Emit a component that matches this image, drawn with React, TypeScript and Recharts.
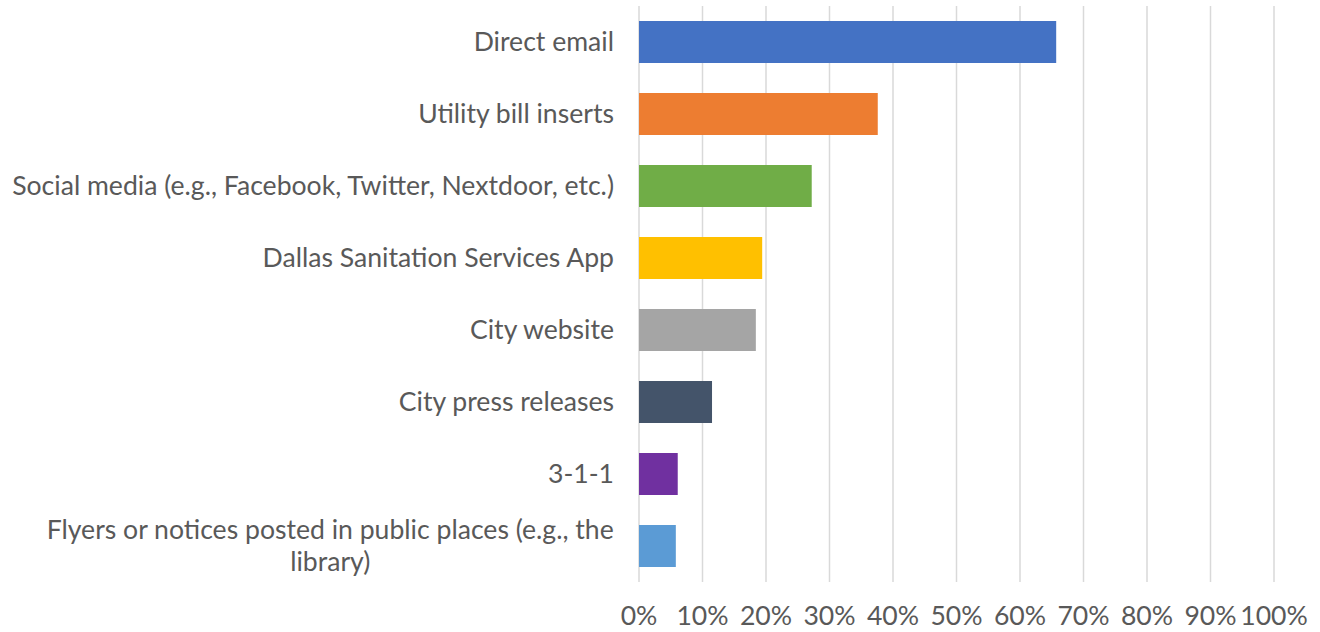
import { BarChart, Bar, XAxis, YAxis, CartesianGrid, Cell } from 'recharts';

const channels = [
  'Direct email',
  'Utility bill inserts',
  'Social media (e.g., Facebook, Twitter, Nextdoor, etc.)',
  'Dallas Sanitation Services App',
  'City website',
  'City press releases',
  '3-1-1',
  'Flyers or notices posted in public places (e.g., the library)',
];

const shares = [0.657, 0.376, 0.272, 0.194, 0.184, 0.115, 0.061, 0.058];

const barColors = ['#4472C4', '#ED7D31', '#70AD47', '#FFC000', '#A5A5A5', '#44546A', '#7030A0', '#5B9BD5'];

const xTicks = [0, 0.1, 0.2, 0.3, 0.4, 0.5, 0.6, 0.7, 0.8, 0.9, 1];

const data = channels.map((label, i) => ({ label, value: shares[i], color: barColors[i] }));

const FONT = 'Lato, "Open Sans", sans-serif';
const TEXT = '#595959';
const SIZE = 26.6;

// wraps the long label the way Excel does: first line right-aligned, rest centred under it
const wrapLimit = 630;

const measure = (s: string) => {
  const c = document.createElement('canvas').getContext('2d');
  if (!c) return s.length * 12;
  c.font = `${SIZE}px ${FONT}`;
  return c.measureText(s).width;
};

const splitLabel = (text: string) => {
  if (measure(text) <= wrapLimit) return [text];
  const words = text.split(' ');
  let first = '';
  let i = 0;
  while (i < words.length && measure((first + ' ' + words[i]).trim()) <= wrapLimit) {
    first = (first + ' ' + words[i]).trim();
    i++;
  }
  return [first, words.slice(i).join(' ')];
};

const CategoryTick = ({ x, y, payload }: { x?: number; y?: number; payload?: { value: string } }) => {
  const lines = splitLabel(payload?.value ?? '');
  const right = (x ?? 0) - 17;
  if (lines.length === 1) {
    return (
      <text x={right} y={y} dy={9} textAnchor="end" fill={TEXT} fontSize={SIZE} fontFamily={FONT}>
        {lines[0]}
      </text>
    );
  }
  const mid = right - measure(lines[0]) / 2;
  return (
    <text fill={TEXT} fontSize={SIZE} fontFamily={FONT} textAnchor="middle">
      <tspan x={mid} y={(y ?? 0) - 7}>{lines[0]}</tspan>
      <tspan x={mid} y={(y ?? 0) + 25}>{lines[1]}</tspan>
    </text>
  );
};

export default function App() {
  return (
    <div style={{ position: 'absolute', left: 0, top: 0, background: '#fff' }}>
      <BarChart
        width={1320}
        height={632}
        data={data}
        layout="vertical"
        margin={{ top: 6, right: 46, bottom: 0, left: 0 }}
        barCategoryGap={30}
      >
        <CartesianGrid horizontal={false} stroke="#d9d9d9" strokeWidth={1.5} />
        <XAxis
          type="number"
          domain={[0, 1]}
          ticks={xTicks}
          tickFormatter={(v: number) => `${Math.round(v * 100)}%`}
          axisLine={false}
          tickLine={false}
          height={50}
          tickMargin={18}
          interval={0}
          tick={{ fill: TEXT, fontSize: SIZE, fontFamily: FONT }}
        />
        <YAxis
          type="category"
          dataKey="label"
          width={639}
          axisLine={false}
          tickLine={false}
          interval={0}
          tick={<CategoryTick />}
        />
        <Bar dataKey="value" barSize={42} isAnimationActive={false}>
          {data.map((d) => (
            <Cell key={d.label} fill={d.color} />
          ))}
        </Bar>
      </BarChart>
    </div>
  );
}
